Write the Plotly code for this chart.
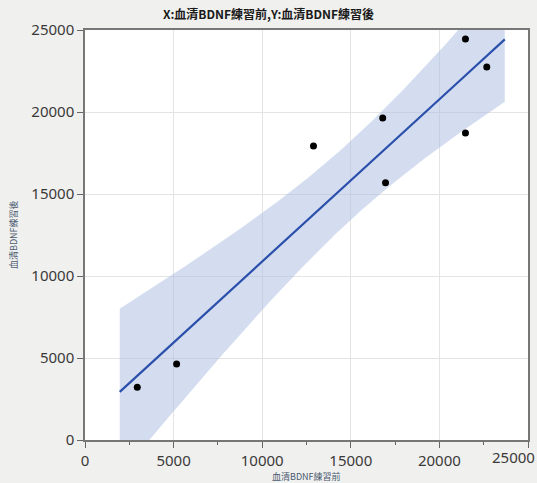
import numpy as np
import plotly.graph_objects as go

# Data
bdnf_pre = [2950, 5170, 12894, 16800, 16960, 21470, 22674, 21470]
bdnf_post = [3220, 4640, 17927, 19640, 15680, 24451, 22744, 18720]
fit_range = [1960, 23690]
t_975_df6 = 2.4469
title_text = "X:血清BDNF練習前,Y:血清BDNF練習後"
x_title = "血清BDNF練習前"
y_title = "血清BDNF練習後"
tick_vals = [0, 5000, 10000, 15000, 20000, 25000]
tick_text = ["0", "5000", "10000", "15000", "20000", "25000"]

x = np.array(bdnf_pre, dtype=float)
y = np.array(bdnf_post, dtype=float)
n = len(x)
slope, intercept = np.polyfit(x, y, 1)
resid = y - (slope * x + intercept)
s = np.sqrt(np.sum(resid ** 2) / (n - 2))
sxx = np.sum((x - x.mean()) ** 2)

xs = np.linspace(fit_range[0], fit_range[1], 200)
yhat = slope * xs + intercept
se = s * np.sqrt(1.0 / n + (xs - x.mean()) ** 2 / sxx)
upper = yhat + t_975_df6 * se
lower = yhat - t_975_df6 * se

fig = go.Figure()
fig.add_trace(go.Scatter(
    x=np.concatenate([xs, xs[::-1]]),
    y=np.concatenate([upper, lower[::-1]]),
    fill="toself", fillcolor="rgba(170,188,226,0.5)",
    line=dict(width=0), mode="lines", hoverinfo="skip", showlegend=False))
fig.add_trace(go.Scatter(
    x=xs, y=yhat, mode="lines",
    line=dict(color="#2b50ac", width=2.2), showlegend=False))
fig.add_trace(go.Scatter(
    x=bdnf_pre, y=bdnf_post, mode="markers",
    marker=dict(color="black", size=7), showlegend=False))

tick_font = dict(family="Noto Sans, DejaVu Sans", size=15, color="#3a3a3a")
axis_common = dict(
    range=[0, 25000], tickvals=tick_vals, showgrid=True, gridcolor="#e4e4e4", gridwidth=1,
    zeroline=False, showline=True, linecolor="#777777", linewidth=1.5, mirror=True,
    ticks="outside", ticklen=6, tickcolor="#666666", automargin=False, tickfont=tick_font,
)
# last x label is drawn as an annotation (shifted left so it fits the page, as in the reference)
fig.update_xaxes(**axis_common, ticktext=tick_text[:-1] + [""],
                 minor=dict(ticks="outside", ticklen=3, tickcolor="#666666", dtick=2500, showgrid=False))
fig.update_yaxes(**axis_common, ticktext=tick_text)

fig.add_annotation(text=tick_text[-1], x=tick_vals[-1], xref="x", yref="paper", y=0, yshift=-17,
                   xanchor="right", xshift=9, yanchor="middle", showarrow=False, font=tick_font)

title_font = dict(family="Noto Sans CJK TC", size=9, color="#4a5a70")
fig.add_annotation(text=x_title, xref="paper", yref="paper", x=0.5, y=0, yshift=-36,
                   xanchor="center", yanchor="middle", showarrow=False, font=title_font)
fig.add_annotation(text=y_title, xref="paper", yref="paper", x=0, y=0.5, xshift=-72,
                   xanchor="center", yanchor="middle", textangle=-90, showarrow=False, font=title_font)

fig.update_layout(
    width=537, height=483,
    margin=dict(l=85, r=9, t=30, b=43),
    paper_bgcolor="#f0f0ee", plot_bgcolor="white",
    title=dict(text="<b>" + title_text + "</b>", x=0.5, xanchor="center", y=0.97, yanchor="middle",
               font=dict(family="Noto Sans CJK TC", size=12, color="#1a1a1a")),
)

fig.write_html("out.html", config={"displayModeBar": False},
               post_script="document.body.style.margin='0';document.body.style.background='#f0f0ee';document.body.style.overflow='hidden';")
